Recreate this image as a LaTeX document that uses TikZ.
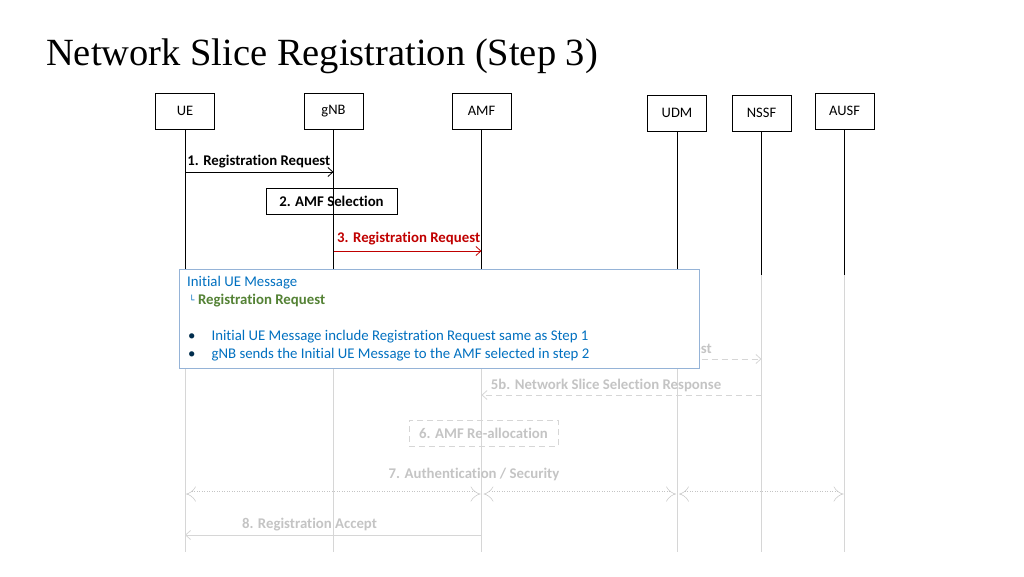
\documentclass[tikz,border=0pt]{standalone}
\usepackage{fontspec}
\setmainfont{Liberation Serif}
\newfontfamily\calfont[Ligatures=NoCommon]{Carlito}
\newfontfamily\boxfont{DejaVu Sans}
\usetikzlibrary{arrows.meta}

\definecolor{slred}{HTML}{C00000}
\definecolor{slblue}{HTML}{0070C0}
\definecolor{slgreen}{HTML}{548235}
\definecolor{slframe}{HTML}{95B3D7}
\definecolor{fadetext}{HTML}{C4C4C4}
\definecolor{fadeline}{HTML}{D6D6D6}

\tikzset{
  entity/.style={draw, minimum width=59pt, minimum height=36pt, inner sep=0pt,
    font=\calfont\fontsize{14.5}{16}\selectfont},
  msg/.style={-{Straight Barb[length=5pt,width=9pt]}, thick},
  msglabel/.style={font=\calfont\bfseries\fontsize{14.8}{16}\selectfont, inner sep=1pt},
  fademsg/.style={draw=fadeline, thick, -{Straight Barb[length=5pt,width=9pt]}},
  fadelabel/.style={msglabel, text=fadetext},
  authline/.style={draw=fadetext, line width=0.5pt, dotted, double=white, double distance=5pt, {Implies}-{Implies}},
  notetext/.style={font=\calfont\fontsize{14.8}{17}\selectfont, text=slblue, inner sep=0pt, anchor=west}
}

\begin{document}
\begin{tikzpicture}[x=1pt,y=-1pt]
    \useasboundingbox (0,0) rectangle (1024,576);

    % Title
    \node[anchor=west, inner sep=0pt, font=\fontsize{38.5}{42}\selectfont] (title) at (46,56) {Network Slice Registration (Step 3)};

    % Entities
    \node[entity] (ue) at (185,111) {UE};
    \node[entity] (gnb) at (333.5,111) {gNB};
    \node[entity] (amf) at (481.5,111) {AMF};
    \node[entity] (udm) at (677,113) {UDM};
    \node[entity] (nssf) at (761.5,113) {NSSF};
    \node[entity] (ausf) at (844.5,111) {AUSF};

    % Lifelines
    \foreach \n in {ue,gnb,amf,udm,nssf,ausf} {
        \draw (\n.south) -- (\n |- 0,275);
        \draw[fadeline] (\n |- 0,275) -- (\n |- 0,552);
    }

    % Step 1 and 2
    \draw[msg] (ue |- 0,172) -- (gnb |- 0,172) node[msglabel, pos=0, anchor=south west, xshift=1pt, yshift=3pt] {1. Registration Request};
    \node[draw, thick, minimum width=131pt, minimum height=26pt, inner sep=0pt, msglabel] (sel) at (331.5,201) {2. AMF Selection};

    % Step 3
    \draw[msg, slred] (gnb |- 0,251) -- (amf |- 0,251) node[msglabel, text=slred, pos=1, anchor=south east, yshift=5pt] {3. Registration Request};

    % Faded steps
    \draw[fademsg, dash pattern=on 6pt off 4pt] (amf |- 0,359) -- (nssf |- 0,359) node[fadelabel, pos=0, anchor=south west, xshift=8pt, yshift=2pt] {5a. Network Slice Selection Request};
    \draw[fademsg, dash pattern=on 6pt off 4pt] (nssf |- 0,395) -- (amf |- 0,395) node[fadelabel, pos=1, anchor=south west, xshift=8pt, yshift=2pt] {5b. Network Slice Selection Response};
    \node[draw=fadeline, thick, dash pattern=on 6pt off 4pt, minimum width=149pt, minimum height=26pt, inner sep=0pt, fadelabel] (realloc) at (483.5,433) {6. AMF Re-allocation};
    \node[fadelabel] (auth) at (474,474) {7. Authentication / Security};
    \draw[authline] ([xshift=1pt]ue |- 0,494) -- ([xshift=-1pt]amf |- 0,494);
    \draw[authline] ([xshift=2pt]amf |- 0,494) -- ([xshift=-1pt]udm |- 0,494);
    \draw[authline] ([xshift=2pt]udm |- 0,494) -- ([xshift=-1pt]ausf |- 0,494);
    \draw[fademsg] (amf |- 0,535) -- (ue |- 0,535) node[fadelabel, pos=0.58, anchor=south, yshift=3pt] {8. Registration Accept};

    % Popup note
    \node[draw=slframe, fill=white, minimum width=520pt, minimum height=99pt, inner sep=0pt] (note) at (439,318.5) {};
    \node[notetext] (msgname) at (187,283) {Initial UE Message};
    \node[notetext] (ie) at (189,301) {{\boxfont\fontsize{9}{10}\selectfont\raisebox{1.5pt}{└}}\hspace{3.5pt}\textcolor{slgreen}{\bfseries Registration Request}};
    \node[notetext] (b1) at (188,337) {\textcolor{black!60!slblue}{•}\hspace{16pt}Initial UE Message include Registration Request same as Step 1};
    \node[notetext] (b2) at (188,355) {\textcolor{black!60!slblue}{•}\hspace{16pt}gNB sends the Initial UE Message to the AMF selected in step 2};
\end{tikzpicture}
\end{document}
